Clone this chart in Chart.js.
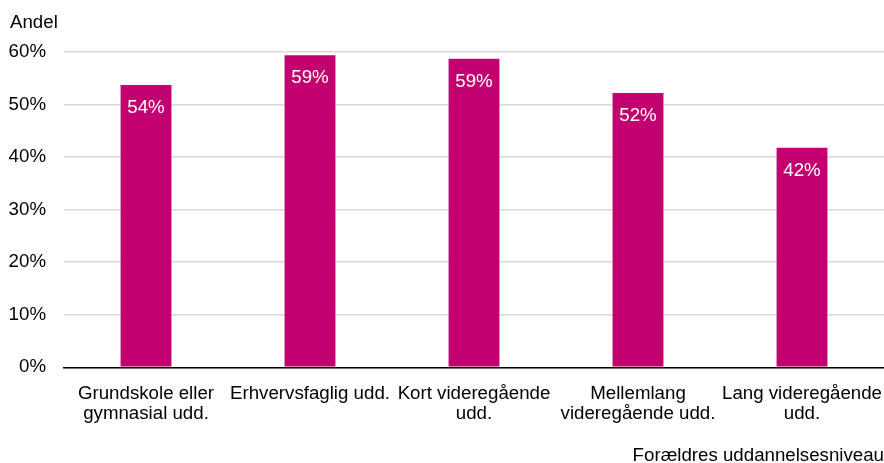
<!DOCTYPE html>
<html>
<head>
<meta charset="utf-8">
<script src="https://cdn.jsdelivr.net/npm/chart.js@4/dist/chart.umd.min.js"></script>
<style>
  html, body { margin: 0; padding: 0; background: #fff; }
  #wrap { width: 884px; height: 463px; position: relative; }
</style>
</head>
<body>
<div id="wrap"><canvas id="andelChart"></canvas></div>
<script>
const categories = [
  ['Grundskole eller', 'gymnasial udd.'],
  'Erhvervsfaglig udd.',
  ['Kort videregående', 'udd.'],
  ['Mellemlang', 'videregående udd.'],
  ['Lang videregående', 'udd.']
];
const andel = [53.7, 59.4, 58.7, 52.2, 41.8];
const yTicks = [0, 10, 20, 30, 40, 50, 60];
const yTitle = 'Andel';
const xTitle = 'Forældres uddannelsesniveau';

const fontFamily = '"Liberation Sans", Arial, sans-serif';
const fontSize = 18.7;
const barColor = '#c2006f';

// white value labels inside top of each bar + "Andel" at top left
const labelPlugin = {
  id: 'labels',
  afterDatasetsDraw(chart) {
    const ctx = chart.ctx;
    ctx.save();
    ctx.font = fontSize + 'px ' + fontFamily;
    ctx.fillStyle = '#fff';
    ctx.textAlign = 'center';
    ctx.textBaseline = 'middle';
    chart.getDatasetMeta(0).data.forEach((bar, i) => {
      ctx.fillText(Math.round(andel[i]) + '%', bar.x, bar.y + 23);
    });
    ctx.fillStyle = '#000';
    ctx.textAlign = 'left';
    ctx.fillText(yTitle, 10, 23);
    ctx.restore();
  }
};

new Chart(document.getElementById('andelChart'), {
  type: 'bar',
  data: {
    labels: categories,
    datasets: [{
      data: andel,
      backgroundColor: barColor,
      borderWidth: 0,
      barPercentage: 0.31,
      categoryPercentage: 1
    }]
  },
  options: {
    responsive: true,
    maintainAspectRatio: false,
    animation: false,
    layout: { padding: { top: 52, left: 8, right: 0, bottom: 0 } },
    plugins: {
      legend: { display: false },
      tooltip: { enabled: false }
    },
    scales: {
      x: {
        grid: { display: false, drawTicks: false },
        border: { color: '#000', width: 1.5 },
        afterFit(axis) {
          axis.paddingLeft = 0;
          axis.paddingRight = 0;
        },
        ticks: {
          color: '#000',
          padding: 16,
          maxRotation: 0,
          autoSkip: false,
          font: { size: fontSize, family: fontFamily, lineHeight: 1.1 }
        },
        title: {
          display: true,
          text: xTitle,
          align: 'end',
          color: '#000',
          padding: { top: 5, bottom: -3 },
          font: { size: fontSize, family: fontFamily, lineHeight: 1.1 }
        }
      },
      y: {
        min: 0,
        max: 60,
        afterBuildTicks(axis) {
          axis.ticks = yTicks.map(v => ({ value: v }));
        },
        afterFit(axis) {
          axis.width = 56;
        },
        grid: { color: '#d9d9d9', lineWidth: 1.5, drawTicks: false },
        border: { display: false },
        ticks: {
          color: '#000',
          padding: 18,
          font: { size: fontSize, family: fontFamily },
          callback: v => v + '%'
        }
      }
    }
  },
  plugins: [labelPlugin]
});
</script>
</body>
</html>
